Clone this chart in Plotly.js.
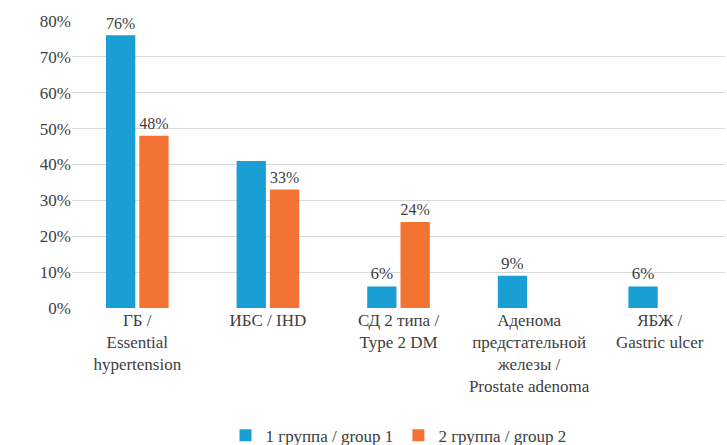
<!DOCTYPE html>
<html><head><meta charset="utf-8">
<script src="https://cdn.plot.ly/plotly-3.0.1.min.js"></script>
<style>body{margin:0;background:#fff}#c{width:727px;height:445px}</style>
</head><body><div id="c"></div>
<script>
const categories = ["ГБ /<br>Essential<br>hypertension", "ИБС / IHD", "СД 2 типа /<br>Type 2 DM", "Аденома<br>предстательной<br>железы /<br>Prostate adenoma", "ЯБЖ /<br>Gastric ulcer"];
const group1 = [76, 41, 6, 9, 6];
const group2 = [48, 33, 24, null, null];
const group1Labels = ["76%", "", "6%", "9%", "6%"];
const group2Labels = ["48%", "33%", "24%", "", ""];
const seriesNames = ["1 группа / group 1", "2 группа / group 2"];
const yTicks = [0, 10, 20, 30, 40, 50, 60, 70, 80];

function mkFont(){ return {family: "Times New Roman, Liberation Serif, serif", size: 17, color: "#404040"}; }
const traces = [
  {type: "bar", x: categories, y: group1, name: seriesNames[0], marker: {color: "#1a9fd5"},
   text: group1Labels, textposition: "outside", textfont: mkFont(), cliponaxis: false},
  {type: "bar", x: categories, y: group2, name: seriesNames[1], marker: {color: "#f37335"},
   text: group2Labels, textposition: "outside", textfont: mkFont(), cliponaxis: false}
];
const layout = {
  width: 727, height: 445,
  margin: {l: 72, r: 2, t: 21, b: 137, autoexpand: false},
  font: mkFont(),
  paper_bgcolor: "#fff", plot_bgcolor: "#fff",
  barmode: "group", bargap: 0.49, bargroupgap: 0.12,
  showlegend: true,
  legend: {orientation: "h", x: 0.5, xanchor: "center", y: -0.445, yanchor: "middle", font: mkFont(), traceorder: "normal"},
  xaxis: {tickfont: mkFont(), showgrid: false, zeroline: false, showline: false, ticks: "", automargin: false},
  yaxis: {range: [0, 80], tickvals: yTicks, ticktext: yTicks.map(v => v + "%"), tickfont: mkFont(),
          showgrid: true, gridcolor: "#d9d9d9", gridwidth: 1, zeroline: false, showline: false, ticks: "", automargin: false, fixedrange: true}
};
Plotly.newPlot("c", traces, layout, {staticPlot: true});
</script></body></html>
